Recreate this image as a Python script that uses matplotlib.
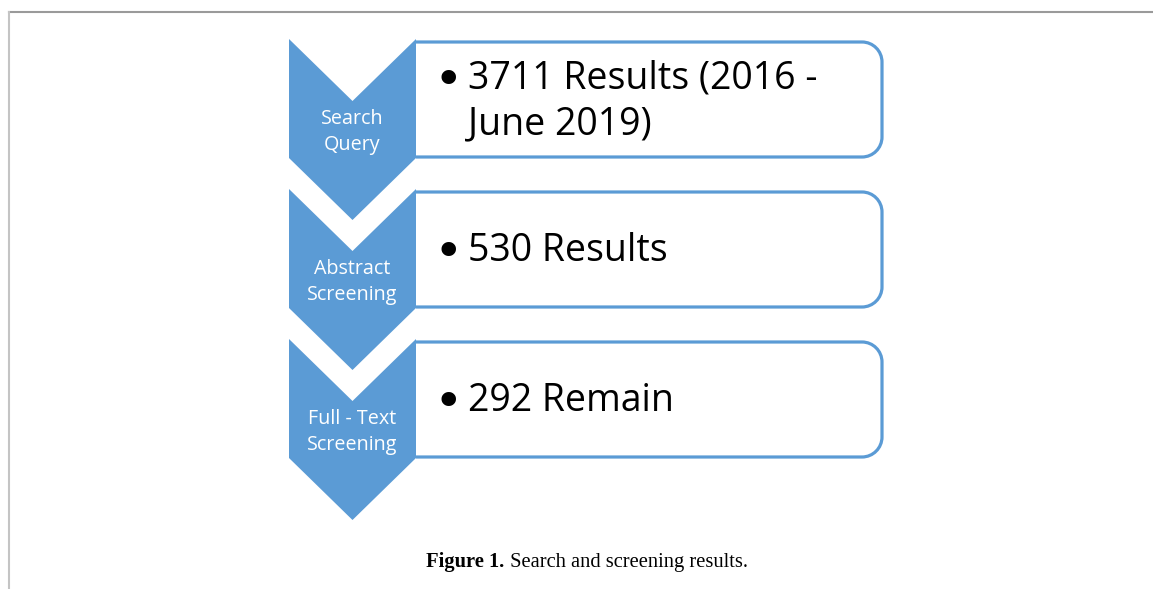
import matplotlib
matplotlib.use("Agg")
import matplotlib.pyplot as plt
from matplotlib.path import Path
from matplotlib.patches import PathPatch, Polygon
from matplotlib.lines import Line2D

stages = ["Search\nQuery", "Abstract\nScreening", "Full - Text\nScreening"]
results = ["3711 Results (2016 -\nJune 2019)", "530 Results", "292 Remain"]
caption_bold = "Figure 1."
caption_rest = " Search and screening results."

BLUE = "#5B9BD5"
W, H = 1153, 589
fig = plt.figure(figsize=(W / 100, H / 100), dpi=100)
ax = fig.add_axes([0, 0, 1, 1])
ax.set_xlim(0, W)
ax.set_ylim(H, 0)
ax.axis("off")

# frame lines
ax.add_line(Line2D([8.5, W], [11.5, 11.5], color="#9a9a9a", lw=1.5))
ax.add_line(Line2D([8.5, 8.5], [11.5, H], color="#c4c4c4", lw=1.5))

cx = 352.5
half = 63.5
notch = 62
step = 150
top0 = 39
side_len = 119
box_right = 882
r = 20
line_gap = 46
for i, (st, res) in enumerate(zip(stages, results)):
    top = top0 + i * step
    bot = top + side_len
    pts = [(cx - half, top), (cx, top + notch), (cx + half, top),
           (cx + half, bot), (cx, bot + notch), (cx - half, bot)]
    ax.add_patch(Polygon(pts, closed=True, facecolor=BLUE, edgecolor="none", zorder=3))
    # box
    bt = top + 3
    bb = top + side_len - 1
    k = 0.5523 * r
    verts = [(cx + half, bt), (box_right - r, bt),
             (box_right - r + k, bt), (box_right, bt + r - k), (box_right, bt + r),
             (box_right, bb - r),
             (box_right, bb - r + k), (box_right - r + k, bb), (box_right - r, bb),
             (cx + half, bb)]
    codes = [Path.MOVETO, Path.LINETO,
             Path.CURVE4, Path.CURVE4, Path.CURVE4,
             Path.LINETO,
             Path.CURVE4, Path.CURVE4, Path.CURVE4,
             Path.LINETO]
    ax.add_patch(PathPatch(Path(verts, codes), facecolor="white", edgecolor=BLUE,
                           lw=2.3, zorder=2, capstyle="butt", joinstyle="round"))
    ax.text(cx, top + 93, st, ha="center", va="center", color="white",
            fontsize=14.2, family="Open Sans", linespacing=1.38, zorder=4)
    lines = res.split("\n")
    n = len(lines)
    for j, ln in enumerate(lines):
        base = top + 72 + (j - (n - 1) / 2) * line_gap
        if j == 0:
            ax.text(448.5, base - 12.5 + 5, "\u2022", ha="center", va="center",
                    fontsize=36, family="DejaVu Sans", color="black", zorder=4)
        ax.text(468, base, ln, ha="left", va="baseline", fontsize=27,
                family="Open Sans", color="black", zorder=4)

# caption
fig.canvas.draw()
rend = fig.canvas.get_renderer()
t1 = ax.text(0, 562, caption_bold, fontsize=14.8, family="Liberation Serif",
             fontweight="bold", va="center", ha="left")
t2 = ax.text(0, 562, caption_rest, fontsize=14.8, family="Liberation Serif",
             va="center", ha="left")
w1 = t1.get_window_extent(rend).width
w2 = t2.get_window_extent(rend).width
x0 = 587 - (w1 + w2) / 2
t1.set_x(x0)
t2.set_x(x0 + w1)

fig.savefig("out.png", dpi=100)
